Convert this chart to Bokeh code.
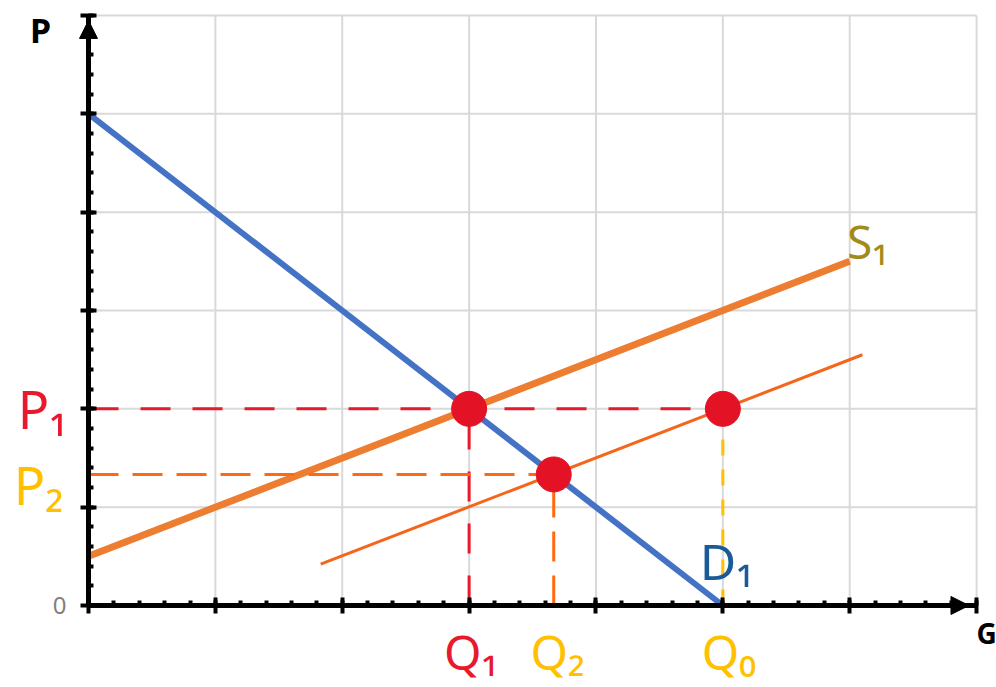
from bokeh.plotting import figure
from bokeh.models import Range1d, LinearAxis, SingleIntervalTicker, Arrow, NormalHead, CustomJSTickFormatter
from bokeh.core.properties import value
from bokeh.embed import file_html
from bokeh.resources import INLINE

# ---------------- data ----------------
grid_q = [0, 1, 2, 3, 4, 5, 6, 7]
grid_p = [0, 1, 2, 3, 4, 5, 6]
demand_q = [0.0, 5.0]
demand_p = [5.0, 0.0]
s1_q = [0.0, 6.0]
s1_p = [0.5, 3.5]
s2_q = [1.83, 6.1]
s2_p = [0.42, 2.55]
eq_q = [3.0, 3.667, 5.0]
eq_p = [2.0, 1.333, 2.0]
P1, P2 = 2.0, 1.333
Q1, Q2, Q0 = 3.0, 3.667, 5.0
q_max, p_max = 7, 6

p = figure(width=996, height=687,
           x_range=Range1d(-0.6937, 7.157), y_range=Range1d(-0.834, 6.153),
           x_axis_type=None, y_axis_type=None,
           output_backend="svg", toolbar_location=None,
           min_border=0, outline_line_color=None)

# grid
p.segment(x0=grid_q, y0=[0] * len(grid_q), x1=grid_q, y1=[p_max] * len(grid_q),
          line_color="#d9d9d9", line_width=2)
p.segment(x0=[0] * len(grid_p), y0=grid_p, x1=[q_max] * len(grid_p), y1=grid_p,
          line_color="#d9d9d9", line_width=2)

# curves
p.line(s1_q, s1_p, line_color="#ed7d31", line_width=7)
p.line(demand_q, demand_p, line_color="#4472c4", line_width=6)
p.line(s2_q, s2_p, line_color="#f4661b", line_width=3)

# dashed guides
red = "#e8192c"
orange = "#ff6a10"
yellow = "#ffc000"
p.segment(x0=[0, Q1], y0=[P1, 0], x1=[Q0, Q1], y1=[P1, P1],
          line_color=red, line_width=3, line_dash="30 22")
p.segment(x0=[0, Q2], y0=[P2, 0], x1=[Q2, Q2], y1=[P2, P2],
          line_color=orange, line_width=3, line_dash="30 14")
p.segment(x0=[Q0], y0=[0], x1=[Q0], y1=[P1],
          line_color=yellow, line_width=3, line_dash="16 14")

# equilibrium dots
p.scatter(eq_q, eq_p, size=35, fill_color="#e31325", line_color="#e31325")

# axes
fmt = CustomJSTickFormatter(code="return '';")
common = dict(axis_line_width=5, axis_line_color="black",
              major_tick_in=8, major_tick_out=8, major_tick_line_width=4,
              minor_tick_in=5, minor_tick_out=0, minor_tick_line_width=4,
              formatter=fmt)
yaxis = LinearAxis(fixed_location=0, bounds=(0, p_max),
                   ticker=SingleIntervalTicker(interval=1, num_minor_ticks=5), **common)
xaxis = LinearAxis(fixed_location=0, bounds=(0, q_max),
                   ticker=SingleIntervalTicker(interval=1, num_minor_ticks=5), **common)
p.add_layout(yaxis, "left")
p.add_layout(xaxis, "below")

p.add_layout(Arrow(end=NormalHead(size=18, fill_color="black", line_color="black"),
                   x_start=0, y_start=p_max - 0.4, x_end=0, y_end=p_max - 0.05,
                   line_alpha=0))
p.add_layout(Arrow(end=NormalHead(size=18, fill_color="black", line_color="black"),
                   x_start=q_max - 0.4, y_start=0, x_end=q_max - 0.06, y_end=0,
                   line_alpha=0))

font = value("Noto Sans")
def label(x, y, t, color, size, dx, dy, style="normal", align="center"):
    p.text(x=[x], y=[y], text=[t], text_color=color, text_font=font,
           text_font_size=size, text_align=align, text_baseline="middle",
           text_font_style=style, x_offset=dx, y_offset=dy)

label(0, 0, "0", "#808080", "24px", -22, 0, align="right")
label(0, P1, "P\u2081", red, "52px", -46, 0)
label(0, P2, "P\u2082", yellow, "52px", -50, 10)
label(Q1, 0, "Q\u2081", red, "48px", 2, 46)
label(Q2, 0, "Q\u2082", yellow, "48px", 4, 46)
label(Q0, 0, "Q\u2080", yellow, "48px", 6, 46)
label(Q0, 0, "D\u2081", "#1a5a96", "50px", 4, -44)
label(s1_q[1], s1_p[1], "S\u2081", "#a38b1a", "46px", 18, -20)
label(0, p_max, "P", "black", "34px", -48, 14, style="bold")
label(q_max, 0, "G", "black", "28px", 0, 28, style="bold", align="left")

open("out.html", "w").write(file_html(p, INLINE))
